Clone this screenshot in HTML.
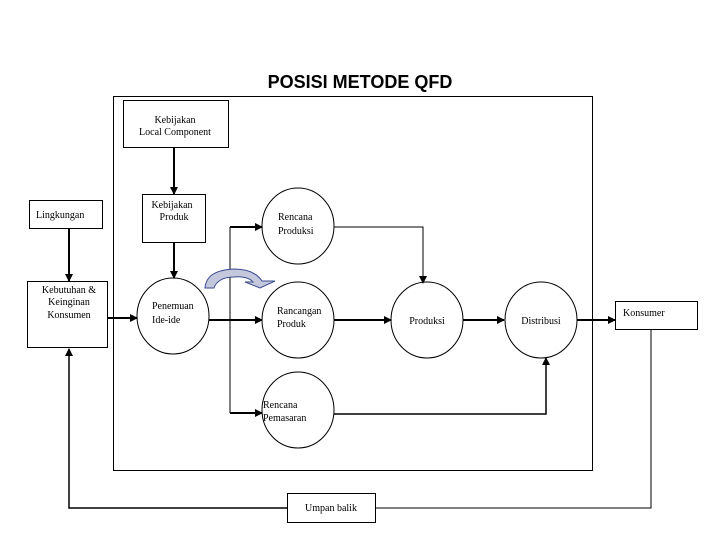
<!DOCTYPE html>
<html><head><style>
body{margin:0;background:#fff}
svg{display:block}
text{font-family:"Liberation Serif",serif;font-size:10px;fill:#000}
</style></head><body>
<svg width="720" height="540" viewBox="0 0 720 540">
<defs><marker id="a" markerWidth="8" markerHeight="8" refX="7" refY="4" orient="auto" markerUnits="userSpaceOnUse"><path d="M0,0L8,4L0,8z" fill="#000"/></marker></defs>
<text x="360" y="88" text-anchor="middle" style="font-family:'Liberation Sans',sans-serif;font-size:18px;font-weight:bold">POSISI METODE QFD</text>
<g fill="none" stroke="#000" stroke-width="1">
<rect x="113.5" y="96.5" width="479" height="374"/>
<rect x="123.5" y="100.5" width="105" height="47"/>
<rect x="142.5" y="194.5" width="63" height="48"/>
<rect x="29.5" y="200.5" width="73" height="28"/>
<rect x="27.5" y="281.5" width="80" height="66"/>
<rect x="615.5" y="301.5" width="82" height="28"/>
<rect x="287.5" y="493.5" width="88" height="29"/>
<ellipse cx="173" cy="316" rx="36" ry="38"/>
<ellipse cx="298" cy="226" rx="36" ry="38"/>
<ellipse cx="298" cy="320" rx="36" ry="38"/>
<ellipse cx="298" cy="410" rx="36" ry="38"/>
<ellipse cx="427" cy="320" rx="36" ry="38"/>
<ellipse cx="541" cy="320" rx="36" ry="38"/>
<path d="M230,227V413"/>
<path d="M334,227H423V283" marker-end="url(#a)"/>
<path d="M334,414H546V358" stroke-width="1.5" marker-end="url(#a)"/>
<path d="M375,508H651V330"/>
<path d="M287,508H69V349" stroke-width="1.5" marker-end="url(#a)"/>
</g>
<g fill="none" stroke="#000" stroke-width="2">
<path d="M174,147V194" marker-end="url(#a)"/>
<path d="M174,242V278" marker-end="url(#a)"/>
<path d="M69,228V281" marker-end="url(#a)"/>
<path d="M107,318H137" marker-end="url(#a)"/>
<path d="M230,227H262" marker-end="url(#a)"/>
<path d="M209,320H262" marker-end="url(#a)"/>
<path d="M230,413H262" marker-end="url(#a)"/>
<path d="M334,320H391" marker-end="url(#a)"/>
<path d="M463,320H504" marker-end="url(#a)"/>
<path d="M577,320H615" marker-end="url(#a)"/>
</g>
<path d="M205,288C206,276 215,270 234,269C250,269 258,275 262,281L275,281L260,288L245,282L253,282C250,278 242,276 234,277C222,277 216,282 214,288Z" fill="#c4c8dc" stroke="#3a4a90" stroke-width="1"/>
<text x="175" y="123" text-anchor="middle">Kebijakan</text>
<text x="175" y="135" text-anchor="middle">Local Component</text>
<text x="172" y="208" text-anchor="middle">Kebijakan</text>
<text x="174" y="220" text-anchor="middle">Produk</text>
<text x="36" y="218">Lingkungan</text>
<text x="69" y="293" text-anchor="middle">Kebutuhan &amp;</text>
<text x="69" y="305" text-anchor="middle">Keinginan</text>
<text x="69" y="318" text-anchor="middle">Konsumen</text>
<text x="152" y="309">Penemuan</text>
<text x="152" y="323">Ide-ide</text>
<text x="278" y="220">Rencana</text>
<text x="278" y="234">Produksi</text>
<text x="277" y="314">Rancangan</text>
<text x="277" y="327">Produk</text>
<text x="263" y="408">Rencana</text>
<text x="263" y="421">Pemasaran</text>
<text x="427" y="324" text-anchor="middle">Produksi</text>
<text x="541" y="324" text-anchor="middle">Distribusi</text>
<text x="623" y="316">Konsumer</text>
<text x="331" y="511" text-anchor="middle">Umpan balik</text>
</svg>
</body></html>
